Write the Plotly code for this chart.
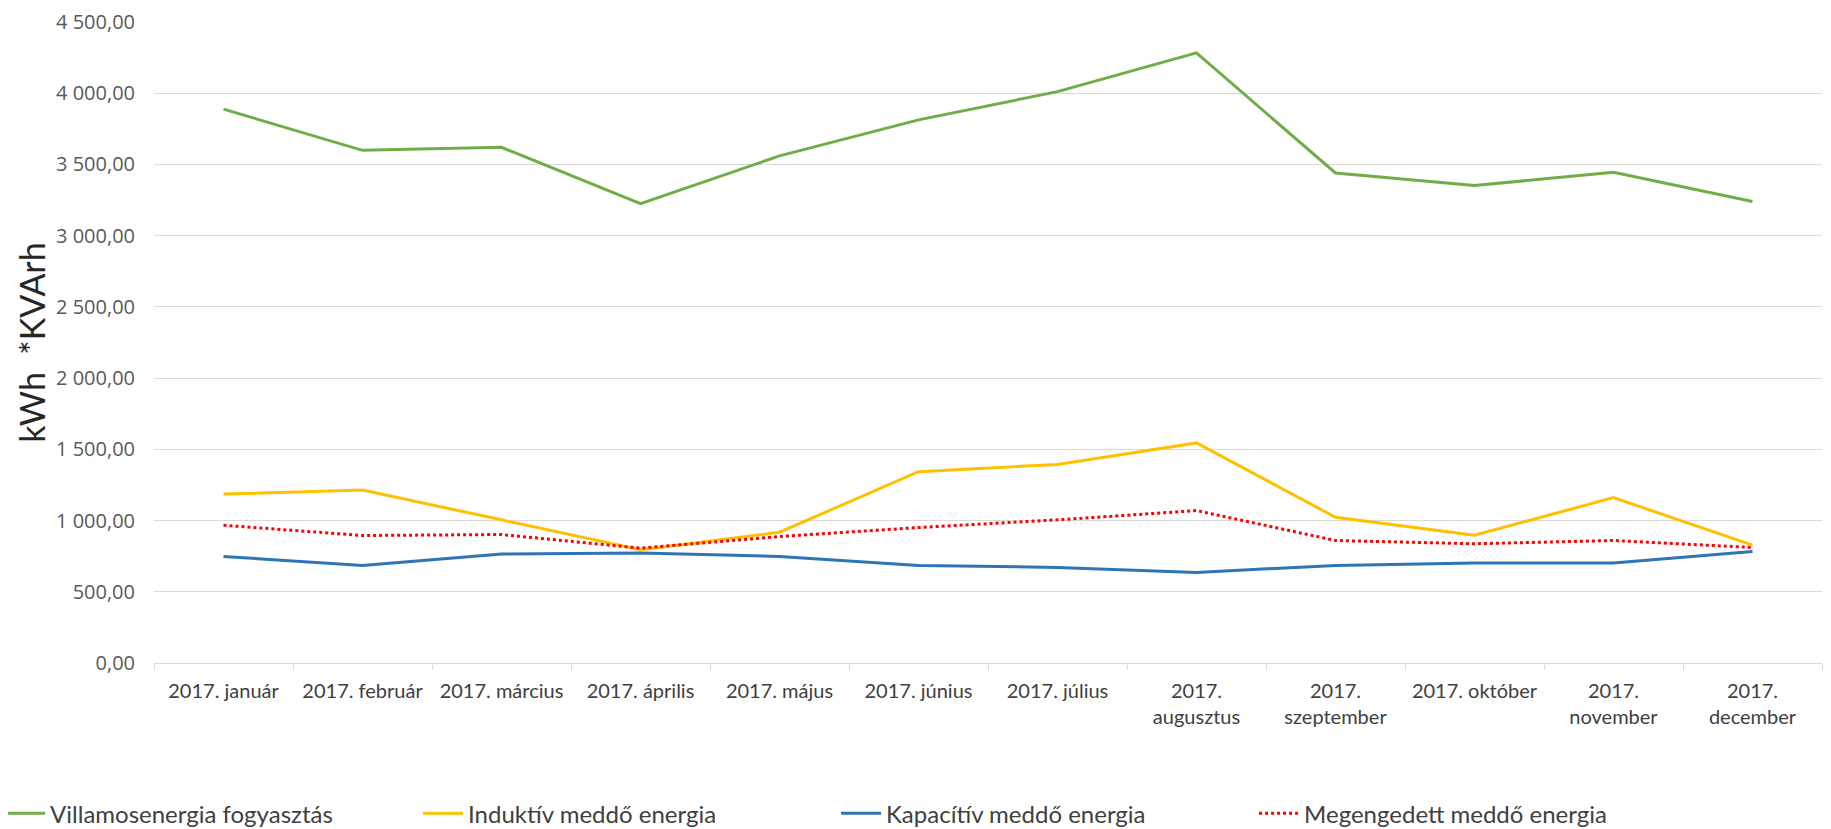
import plotly.graph_objects as go

FONT = "Lato, 'Open Sans', Arial, sans-serif"
GRID = "#D9D9D9"
TXT = "#404040"

months = [
    "2017. január", "2017. február", "2017. március", "2017. április",
    "2017. május", "2017. június", "2017. július", "2017.<br>augusztus",
    "2017.<br>szeptember", "2017. október", "2017.<br>november", "2017.<br>december",
]

villamos = [3888, 3599, 3620, 3224, 3560, 3813, 4011, 4283, 3440, 3352, 3445, 3240]
induktiv = [1186, 1214, 1005, 795, 918, 1343, 1394, 1545, 1023, 897, 1161, 828]
kapacitiv = [748, 685, 765, 772, 748, 685, 671, 636, 685, 702, 702, 783]
megengedett = [967, 895, 902, 806, 888, 951, 1005, 1070, 860, 837, 860, 811]

series = [
    ("Villamosenergia fogyasztás", villamos, "#70AD47", "solid"),
    ("Induktív meddő energia", induktiv, "#FFC000", "solid"),
    ("Kapacítív meddő energia", kapacitiv, "#2E75B6", "solid"),
    ("Megengedett meddő energia", megengedett, "#FF0000", "dot"),
]

fig = go.Figure()
for name, vals, color, dash in series:
    fig.add_trace(go.Scatter(
        x=months, y=vals, name=name, mode="lines",
        line=dict(color=color, width=3, dash=dash),
    ))

# page body adds an 8px margin, so the figure is 8px smaller than the window
fig.update_layout(
    width=1823, height=821,
    font=dict(family=FONT, size=17, color=TXT),
    plot_bgcolor="white",
    paper_bgcolor="white",
    separators=", ",
    # fixed margins: the legend sits outside the plot and must not push them
    margin=dict(l=146, r=9, t=14, b=166, autoexpand=False),
    xaxis=dict(
        range=[-0.5, 11.5], automargin=False,
        showgrid=False, showline=True, linecolor=GRID, linewidth=1,
        ticks="outside", tickson="boundaries", ticklen=6, tickcolor=GRID,
        tickfont=dict(size=20, color=TXT), tickangle=0, ticklabelstandoff=10,
    ),
    yaxis=dict(
        range=[0, 4500], dtick=500, tickformat=",.2f", automargin=False,
        showgrid=True, gridcolor=GRID, gridwidth=1, zeroline=False,
        tickfont=dict(family="'Open Sans', Arial, sans-serif", size=20, color="#595959"),
        ticklabelstandoff=18, ticklabeloverflow="allow",
        title=dict(text="kWh  *KVArh", font=dict(family=FONT, size=34, color="#262626"), standoff=0),
    ),
    legend=dict(
        orientation="h", x=-0.0923, xanchor="left", y=-0.235, yanchor="middle",
        entrywidth=363, entrywidthmode="pixels",
        font=dict(size=24, color=TXT), itemwidth=40,
    ),
)

fig.write_html("out.html")
